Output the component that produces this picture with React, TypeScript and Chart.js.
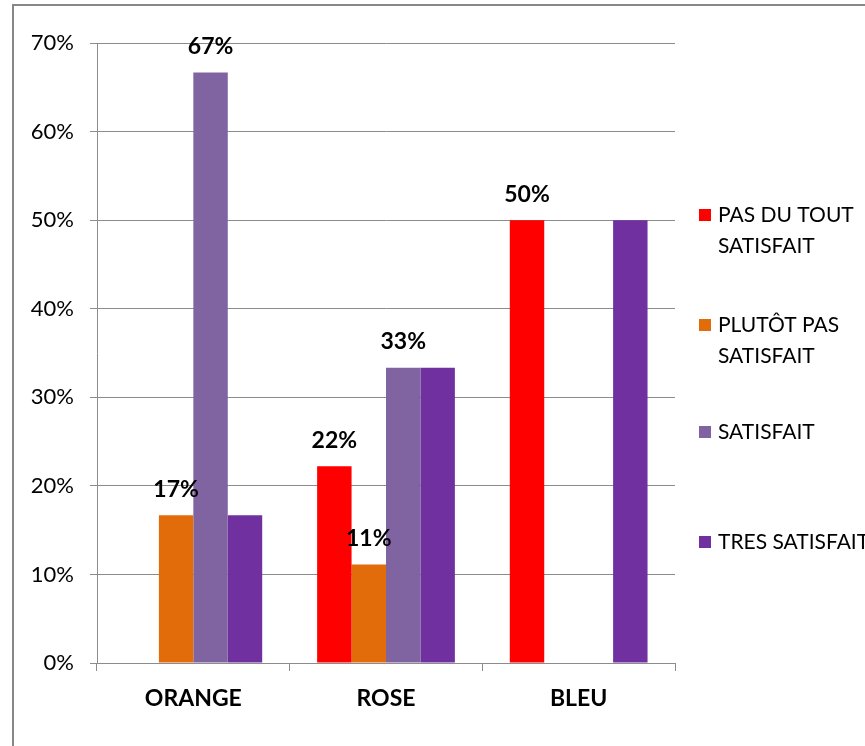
import React, { useEffect, useRef } from "react";
import { Chart, registerables } from "chart.js";

Chart.register(...registerables);

const categories = ["ORANGE", "ROSE", "BLEU"];
const seriesNames: string[][] = [
  ["PAS DU TOUT", "SATISFAIT"],
  ["PLUTÔT PAS", "SATISFAIT"],
  ["SATISFAIT"],
  ["TRES SATISFAIT"],
];
const pasDuTout = [0, 22.22, 50];
const plutotPas = [16.67, 11.11, 0];
const satisfait = [66.67, 33.33, 0];
const tresSatisfait = [16.67, 33.33, 50];
const seriesColors = ["#FF0000", "#E36C0A", "#8064A2", "#7030A0"];
const labelledSeries = [0, 1, 2];
const yTicks = [0, 10, 20, 30, 40, 50, 60, 70];

const FONT = "Lato, 'Open Sans', sans-serif";
const GRID = "#8C8C8C";

export default function App() {
  const ref = useRef<HTMLCanvasElement | null>(null);
  useEffect(() => {
    if (!ref.current) return;
    const values = [pasDuTout, plutotPas, satisfait, tresSatisfait];

    const borderPlugin = {
      id: "outerBorder",
      beforeDraw(chart: any) {
        const ctx = chart.ctx;
        ctx.save();
        ctx.strokeStyle = "#878787";
        ctx.lineWidth = 2;
        ctx.strokeRect(13, 5, 900, 800);
        ctx.restore();
      },
    };

    const labelPlugin = {
      id: "valueLabels",
      afterDatasetsDraw(chart: any) {
        const ctx = chart.ctx;
        ctx.save();
        ctx.font = `bold 23px ${FONT}`;
        ctx.fillStyle = "#000";
        ctx.textAlign = "center";
        ctx.textBaseline = "middle";
        labelledSeries.forEach((di) => {
          const meta = chart.getDatasetMeta(di);
          meta.data.forEach((el: any, i: number) => {
            const v = values[di][i];
            if (v > 0) ctx.fillText(Math.round(v) + "%", el.x, el.y - 26);
          });
        });
        ctx.restore();
      },
    };

    const legendPlugin = {
      id: "sideLegend",
      afterDraw(chart: any) {
        const ctx = chart.ctx;
        const x0 = chart.chartArea.right + 24;
        const itemY = [215, 325, 432, 542];
        const lineH = 31;
        ctx.save();
        ctx.font = `21px ${FONT}`;
        ctx.textBaseline = "middle";
        ctx.textAlign = "left";
        seriesNames.forEach((lines, i) => {
          ctx.fillStyle = seriesColors[i];
          ctx.fillRect(x0, itemY[i] - 6, 12, 12);
          ctx.fillStyle = "#000";
          lines.forEach((t, j) => ctx.fillText(t, x0 + 19, itemY[i] + j * lineH));
        });
        ctx.restore();
      },
    };

    const chart = new Chart(ref.current, {
      type: "bar",
      data: {
        labels: categories,
        datasets: values.map((d, i) => ({
          label: seriesNames[i].join(" "),
          data: d,
          backgroundColor: seriesColors[i],
          borderWidth: 0,
          categoryPercentage: 0.715,
          barPercentage: 1.0,
        })),
      },
      options: {
        responsive: false,
        animation: false,
        devicePixelRatio: 1,
        layout: { padding: { top: 43, right: 190, left: 0, bottom: 0 } },
        plugins: { legend: { display: false }, tooltip: { enabled: false } },
        scales: {
          x: {
            grid: {
              offset: true,
              drawOnChartArea: false,
              drawTicks: true,
              tickLength: 8,
              color: GRID,
            },
            border: { color: GRID, width: 1 },
            ticks: { color: "#000", font: { family: FONT, size: 23, weight: "bold" }, padding: 14 },
            afterFit(scale: any) {
              scale.height = 83;
            },
          },
          y: {
            min: 0,
            max: 70,
            afterBuildTicks(scale: any) {
              scale.ticks = yTicks.map((v) => ({ value: v }));
            },
            grid: { color: GRID, tickLength: 7, drawTicks: true },
            border: { color: GRID, width: 1 },
            ticks: {
              color: "#000",
              font: { family: FONT, size: 22 },
              padding: 16,
              callback: (v: any) => v + "%",
            },
            afterFit(scale: any) {
              scale.width = 97;
            },
          },
        },
      },
      plugins: [borderPlugin, labelPlugin, legendPlugin],
    });
    return () => chart.destroy();
  }, []);

  return (
    <div style={{ position: "absolute", left: 0, top: 0, width: 865, height: 746, background: "#fff" }}>
      <canvas ref={ref} width={865} height={746} style={{ display: "block" }} />
    </div>
  );
}
